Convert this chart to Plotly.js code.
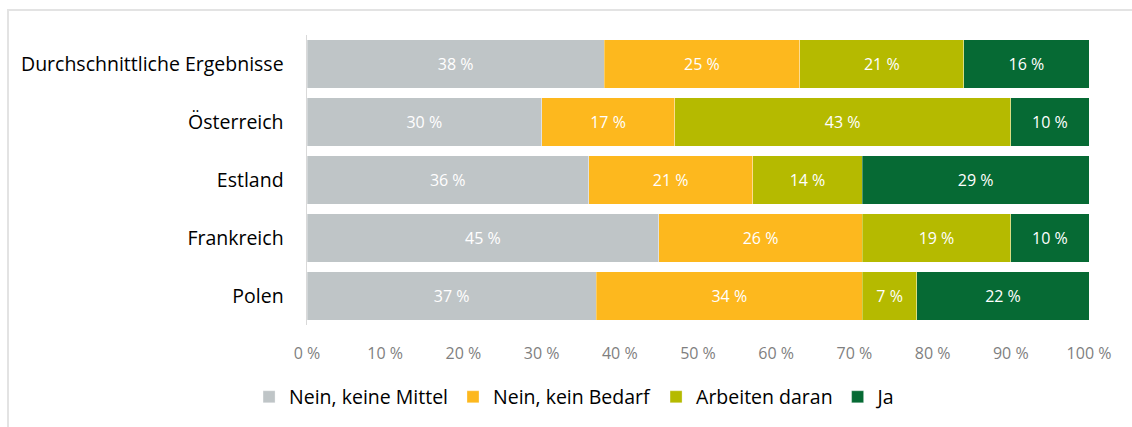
<!DOCTYPE html>
<html>
<head>
<meta charset="utf-8">
<script src="https://cdn.plot.ly/plotly-3.0.1.min.js"></script>
<style>
html,body{margin:0;padding:0;background:#fff;overflow:hidden;}
#chart{width:1132px;height:427px;}
#frame{position:absolute;left:7px;top:9px;width:1140px;height:440px;border:2px solid #e3e3e3;pointer-events:none;box-sizing:border-box;}
</style>
</head>
<body>
<div id="chart"></div>
<div id="frame"></div>
<script>
const categories = ["Durchschnittliche Ergebnisse", "Österreich", "Estland", "Frankreich", "Polen"];
const seriesNames = ["Nein, keine Mittel", "Nein, kein Bedarf", "Arbeiten daran", "Ja"];
const keineMittel = [38, 30, 36, 45, 37];
const keinBedarf  = [25, 17, 21, 26, 34];
const arbeiten    = [21, 43, 14, 19, 7];
const ja          = [16, 10, 29, 10, 22];
const colors = ["#BFC5C7", "#FDB81E", "#B5BA00", "#066A34"];
const tickVals = [0,10,20,30,40,50,60,70,80,90,100];
const tickText = tickVals.map(v => v + " %");

const allSeries = [keineMittel, keinBedarf, arbeiten, ja];
const font = "'Open Sans', 'Noto Sans', sans-serif";

const traces = allSeries.map((vals, i) => ({
  type: "bar",
  orientation: "h",
  name: seriesNames[i],
  y: categories,
  x: vals,
  text: vals.map(v => v + " %"),
  textposition: "inside",
  insidetextanchor: "middle",
  textangle: 0,
  constraintext: "none",
  textfont: {color: "#ffffff", size: 16, family: font},
  marker: {color: colors[i], line: {color: "rgba(255,255,255,0.6)", width: 0.5}},
  hoverinfo: "none"
}));

const layout = {
  width: 1132,
  height: 427,
  margin: {l: 307, r: 43, t: 35, b: 102},
  barmode: "stack",
  bargap: 0.17,
  paper_bgcolor: "#ffffff",
  plot_bgcolor: "#ffffff",
  font: {family: font, color: "#000"},
  xaxis: {
    range: [0, 100],
    tickvals: tickVals,
    ticktext: tickText,
    showgrid: false,
    zeroline: false,
    showline: false,
    ticks: "outside",
    ticklen: 14,
    tickcolor: "rgba(0,0,0,0)",
    tickfont: {size: 16, color: "#7f7f7f", family: font},
    fixedrange: true
  },
  yaxis: {
    autorange: "reversed",
    showgrid: false,
    zeroline: false,
    showline: true,
    linecolor: "#d9d9d9",
    linewidth: 1.5,
    ticks: "outside",
    ticklen: 18,
    tickcolor: "rgba(0,0,0,0)",
    tickfont: {size: 19.5, color: "#000", family: font},
    fixedrange: true
  },
  legend: {
    orientation: "h",
    xref: "container",
    yref: "container",
    x: 0.508,
    xanchor: "center",
    y: 0.07,
    yanchor: "middle",
    font: {size: 19.5, color: "#000", family: font},
    itemwidth: 30,
    traceorder: "normal"
  },
  showlegend: true
};

Plotly.newPlot("chart", traces, layout, {displayModeBar: false, staticPlot: true});
</script>
</body>
</html>
